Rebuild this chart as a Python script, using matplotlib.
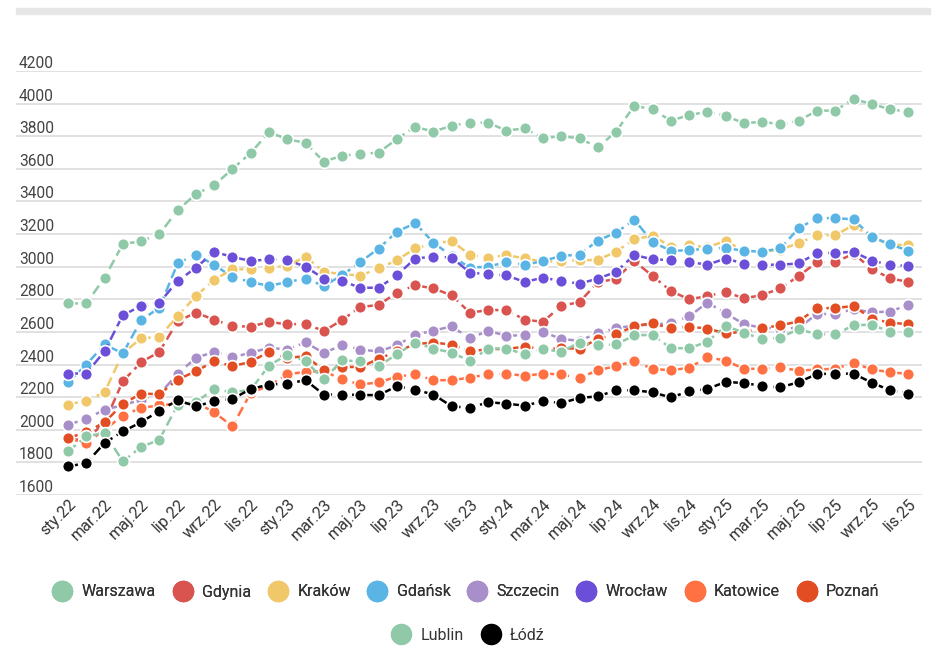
import matplotlib.pyplot as plt
from matplotlib.lines import Line2D
from matplotlib.patches import Rectangle

plt.rcParams['font.family'] = ['Roboto', 'DejaVu Sans']

# Month labels (Jan 2022 - Nov 2025)
month_names = ['sty', 'lut', 'mar', 'kwi', 'maj', 'cze', 'lip', 'sie', 'wrz', 'paź', 'lis', 'gru']
months = [f"{m}.{y}" for y in ('22', '23', '24', '25') for m in month_names][:47]

cities = ['Warszawa', 'Gdynia', 'Kraków', 'Gdańsk', 'Szczecin',
          'Wrocław', 'Katowice', 'Poznań', 'Lublin', 'Łódź']
colors = ['#8fc9a8', '#d9534f', '#f0c869', '#5ab5e5', '#a98fca',
          '#6b4fd8', '#ff7043', '#e34d24', '#8fc9a8', '#000000']

warszawa = [2775, 2775, 2932, 3139, 3156, 3200, 3346, 3446, 3499, 3600, 3697, 3826,
            3781, 3760, 3644, 3681, 3691, 3699, 3783, 3858, 3828, 3865, 3883, 3883,
            3834, 3849, 3787, 3801, 3787, 3732, 3828, 3987, 3965, 3895, 3930, 3950,
            3926, 3879, 3889, 3873, 3895, 3957, 3957, 4028, 3998, 3965, 3950]
gdynia = [1940, 1940, 2045, 2298, 2414, 2478, 2666, 2718, 2675, 2636, 2632, 2662,
          2646, 2650, 2605, 2673, 2753, 2765, 2841, 2886, 2867, 2824, 2718, 2734,
          2734, 2675, 2662, 2760, 2783, 2905, 2925, 3034, 2943, 2851, 2800, 2820,
          2845, 2806, 2826, 2867, 2943, 3027, 3027, 3080, 2986, 2929, 2906]
krakow = [2154, 2179, 2230, 2470, 2560, 2570, 2697, 2820, 2920, 2984, 2984, 2995,
          3005, 3062, 2968, 2955, 2945, 2990, 3039, 3113, 3140, 3158, 3072, 3056,
          3070, 3052, 3030, 3035, 3039, 3042, 3092, 3168, 3190, 3123, 3132, 3120,
          3158, 3097, 3091, 3105, 3145, 3193, 3193, 3255, 3180, 3135, 3132]
gdansk = [2292, 2400, 2523, 2468, 2673, 2748, 3021, 3074, 3011, 2937, 2906, 2882,
          2906, 2927, 2882, 2947, 3029, 3111, 3214, 3267, 3148, 3065, 2994, 3000,
          3029, 3011, 3035, 3066, 3074, 3160, 3209, 3287, 3152, 3097, 3101, 3111,
          3115, 3097, 3092, 3113, 3236, 3298, 3298, 3290, 3183, 3137, 3098]
szczecin = [2031, 2066, 2124, 2150, 2185, 2218, 2343, 2441, 2478, 2445, 2472, 2503,
            2492, 2536, 2470, 2520, 2492, 2480, 2518, 2582, 2608, 2634, 2560, 2608,
            2575, 2582, 2600, 2557, 2545, 2594, 2622, 2640, 2645, 2655, 2695, 2780,
            2715, 2648, 2625, 2620, 2625, 2710, 2710, 2740, 2720, 2725, 2766]
wroclaw = [2345, 2345, 2482, 2703, 2759, 2779, 2912, 2994, 3091, 3060, 3035, 3045,
           3041, 3000, 2927, 2912, 2871, 2871, 2947, 3050, 3062, 3056, 2964, 2953,
           2947, 2906, 2933, 2912, 2896, 2927, 2968, 3072, 3045, 3041, 3029, 3012,
           3050, 3019, 3012, 3012, 3020, 3084, 3084, 3092, 3037, 3012, 3004]
katowice = [1945, 1919, 2000, 2087, 2134, 2150, 2160, 2168, 2107, 2021, 2226, 2270,
            2340, 2355, 2360, 2309, 2278, 2290, 2326, 2340, 2304, 2304, 2320, 2340,
            2345, 2330, 2345, 2339, 2318, 2365, 2390, 2421, 2373, 2365, 2380, 2445,
            2424, 2374, 2374, 2382, 2362, 2370, 2374, 2409, 2370, 2353, 2342]
poznan = [1949, 1985, 2046, 2158, 2222, 2218, 2308, 2359, 2420, 2390, 2417, 2478,
          2440, 2452, 2365, 2385, 2385, 2435, 2480, 2525, 2535, 2522, 2480, 2495,
          2495, 2510, 2495, 2500, 2497, 2558, 2585, 2636, 2653, 2622, 2633, 2620,
          2592, 2600, 2624, 2640, 2665, 2746, 2746, 2759, 2681, 2657, 2647]
lublin = [1867, 1960, 1980, 1806, 1894, 1939, 2154, 2170, 2250, 2230, 2245, 2394,
          2460, 2421, 2309, 2425, 2420, 2391, 2463, 2535, 2498, 2473, 2422, 2498,
          2498, 2463, 2495, 2478, 2535, 2518, 2523, 2579, 2582, 2500, 2500, 2540,
          2636, 2596, 2555, 2565, 2618, 2585, 2585, 2640, 2645, 2600, 2597]
lodz = [1775, 1796, 1919, 1990, 2046, 2117, 2181, 2144, 2175, 2189, 2250, 2277,
        2283, 2304, 2216, 2216, 2214, 2212, 2267, 2246, 2216, 2144, 2134, 2169,
        2160, 2148, 2175, 2164, 2195, 2205, 2242, 2242, 2230, 2198, 2236, 2250,
        2294, 2286, 2270, 2260, 2292, 2342, 2344, 2344, 2289, 2242, 2221]

series = [warszawa, gdynia, krakow, gdansk, szczecin, wroclaw, katowice, poznan, lublin, lodz]
yticks = list(range(1600, 4201, 200))

W, H = 940, 657
fig = plt.figure(figsize=(W / 100, H / 100), dpi=100)
fig.patch.set_facecolor('white')
# thin grey band along the top edge
fig.patches.append(Rectangle((16 / W, 1 - 14 / H), 914 / W, 6 / H,
                             transform=fig.transFigure, color='#e6e6e6', zorder=0))

ax = fig.add_axes([16 / W, 1 - 495 / H, 906 / W, 424 / H])
x = list(range(len(months)))
for name, vals, col in zip(cities, series, colors):
    ax.plot(x, vals, color=col, lw=1.8, dashes=(4, 2), dash_capstyle='butt',
            marker='o', ms=8.5, mfc=col, mec='white', mew=1.2,
            label=name, clip_on=False, zorder=3)

ax.set_xlim(-2.85, 46.75)
ax.set_ylim(1600, 4200)
ax.set_yticks(yticks, [str(t) for t in yticks], ha='left', va='bottom')
ax.tick_params(axis='y', length=0, pad=-2, labelsize=11.2, labelcolor='#444444')
ax.set_xticks(x[::2], months[::2], rotation=45, ha='right', va='top',
              rotation_mode='anchor')
ax.tick_params(axis='x', length=0, pad=1, labelsize=11.6, labelcolor='#333333')
ax.grid(axis='y', color='#dedede', lw=1.3)
ax.set_axisbelow(True)
for s in ax.spines.values():
    s.set_visible(False)

handles = [Line2D([], [], ls='none', marker='o', ms=14.5, mfc=c, mec=c, label=n)
           for n, c in zip(cities, colors)]
leg_kw = dict(loc='center', frameon=False, fontsize=11.5, handlelength=1.25,
              handletextpad=0.6, columnspacing=1.03, borderpad=0, labelcolor='#333333')
leg1 = fig.legend(handles=handles[:8], ncol=8, bbox_to_anchor=(466 / W, 1 - 592 / H), **leg_kw)
fig.add_artist(leg1)
fig.legend(handles=handles[8:], ncol=2, bbox_to_anchor=(468 / W, 1 - 635 / H), **leg_kw)

fig.savefig('out.png', dpi=100)
